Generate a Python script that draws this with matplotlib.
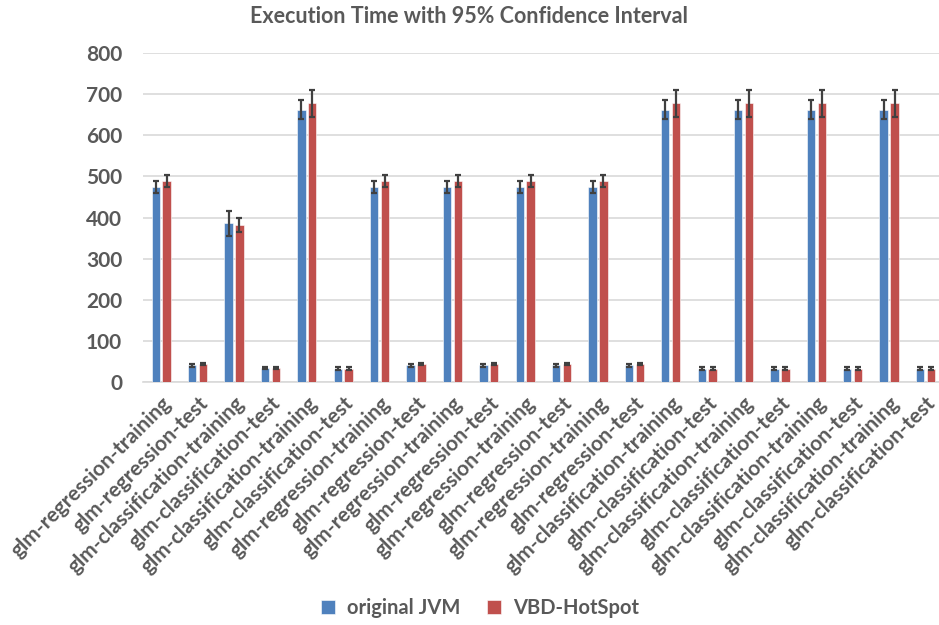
import numpy as np
import matplotlib
matplotlib.use("Agg")
import matplotlib.pyplot as plt

plt.rcParams['font.family'] = ['Lato', 'DejaVu Sans']

categories = [
    "glm-regression-training", "glm-regression-test",
    "glm-classification-training", "glm-classification-test",
    "glm-classification-training", "glm-classification-test",
    "glm-regression-training", "glm-regression-test",
    "glm-regression-training", "glm-regression-test",
    "glm-regression-training", "glm-regression-test",
    "glm-regression-training", "glm-regression-test",
    "glm-classification-training", "glm-classification-test",
    "glm-classification-training", "glm-classification-test",
    "glm-classification-training", "glm-classification-test",
    "glm-classification-training", "glm-classification-test",
]
original_jvm = [474, 41, 386, 35, 662, 33, 474, 41, 474, 41, 474, 41, 474, 41,
                662, 33, 662, 33, 662, 33, 662, 33]
original_err = [15, 3, 30, 3, 24, 3, 15, 3, 15, 3, 15, 3, 15, 3,
                24, 3, 24, 3, 24, 3, 24, 3]
vbd_hotspot = [488, 44, 381, 35, 677, 33, 488, 44, 488, 44, 488, 44, 488, 44,
               677, 33, 677, 33, 677, 33, 677, 33]
vbd_err = [15, 3, 17, 3, 32, 3, 15, 3, 15, 3, 15, 3, 15, 3,
           32, 3, 32, 3, 32, 3, 32, 3]

BLUE = "#4F81BD"
RED = "#C0504D"
TEXT = "#595959"
GRID = "#D9D9D9"

fig = plt.figure(figsize=(9.39, 6.25), dpi=100)
ax = fig.add_axes([0.1523, 0.3883, 0.8477, 0.5274])

x = np.arange(len(categories))
w = 0.23
err_kw = dict(ecolor="#404040", elinewidth=1.6, capsize=2.5, capthick=1.6)
ax.bar(x - 0.15, original_jvm, w, yerr=original_err, color=BLUE,
       edgecolor="white", linewidth=0.4, error_kw=err_kw, label="original JVM",
       zorder=3)
ax.bar(x + 0.15, vbd_hotspot, w, yerr=vbd_err, color=RED,
       edgecolor="white", linewidth=0.4, error_kw=err_kw, label="VBD-HotSpot",
       zorder=3)

ax.set_xlim(-0.5, 21.37)
ax.set_ylim(0, 800)
ax.set_yticks(range(0, 801, 100))
ax.yaxis.grid(True, color=GRID, linewidth=1.2, zorder=0)
ax.set_axisbelow(True)
for s in ["top", "right", "left"]:
    ax.spines[s].set_visible(False)
ax.spines["bottom"].set_color(GRID)
ax.spines["bottom"].set_linewidth(1.2)
ax.tick_params(axis="both", length=0, colors=TEXT)
ax.tick_params(axis="y", pad=15, labelsize=15)
ax.tick_params(axis="x", pad=8, labelsize=15)
ax.set_xticks(x)
ax.set_xticklabels(categories, rotation=45, ha="right",
                   rotation_mode="anchor", fontweight="bold", color=TEXT)
for lbl in ax.get_yticklabels():
    lbl.set_fontweight("bold")

fig.text(0.5, 0.973, "Execution Time with 95% Confidence Interval",
         ha="center", va="center", fontsize=15.5, fontweight="bold", color=TEXT)

leg = fig.legend(loc="center", bbox_to_anchor=(0.511, 0.027), ncol=2,
                 frameon=False, handlelength=0.7,
                 handleheight=0.7, columnspacing=1.3, handletextpad=0.6,
                 prop={"weight": "bold", "size": 14.5})
for t in leg.get_texts():
    t.set_color(TEXT)

fig.savefig("out.png", dpi=100)
